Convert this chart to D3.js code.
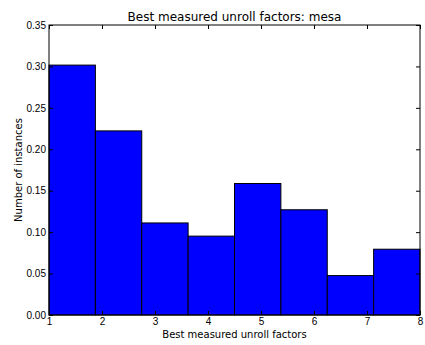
<!DOCTYPE html>
<html lang="en">
<head>
<meta charset="utf-8" />
<title>Best measured unroll factors: mesa</title>
<style>
html, body {
	margin: 0;
	padding: 0;
	background: #fff;
}
svg {
	display: block;
	font-family: "DejaVu Sans", sans-serif;
}
</style>
</head>
<body>
<svg width="425" height="345"></svg>

<script src="https://cdn.jsdelivr.net/npm/d3@7/dist/d3.min.js"></script>
<script>
// bin edges (unroll factor 1..8 split into 8 bins) and normed heights
var binEdges = [1, 1.875, 2.75, 3.625, 4.5, 5.375, 6.25, 7.125, 8];
var binValues = [0.3016, 0.2222, 0.1111, 0.0952, 0.1587, 0.1270, 0.0476, 0.0794];
var xTicks = [1, 2, 3, 4, 5, 6, 7, 8];
var yTicks = [0, 0.05, 0.10, 0.15, 0.20, 0.25, 0.30, 0.35];

var svg = d3.select('svg');
var plotL = 49, plotR = 420, plotT = 25, plotB = 315;

var x = d3.scaleLinear().domain([1, 8]).range([plotL, plotR]);
var y = d3.scaleLinear().domain([0, 0.35]).range([plotB, plotT]);

var bins = binValues.map(function(v, i) {
	return { x0: binEdges[i], x1: binEdges[i + 1], v: v };
});

// bars
svg.append('g').selectAll('rect')
	.data(bins)
	.enter()
	.append('rect')
	.attr('x', function(d) { return x(d.x0); })
	.attr('width', function(d) { return x(d.x1) - x(d.x0); })
	.attr('y', function(d) { return y(d.v); })
	.attr('height', function(d) { return y(0) - y(d.v); })
	.attr('fill', '#0000ff')
	.attr('stroke', '#000')
	.attr('stroke-width', 1);

// axes, ticks pointing inward like old matplotlib
function styleAxis(g) {
	g.select('.domain').remove();
	g.selectAll('.tick line').attr('stroke', '#000');
	g.selectAll('text').attr('fill', '#000').style('font-size', '10px');
}

svg.append('g')
	.attr('transform', 'translate(0,' + plotB + ')')
	.call(d3.axisBottom(x).tickValues(xTicks).tickFormat(d3.format('d')).tickSizeInner(-4).tickSizeOuter(0).tickPadding(3))
	.call(styleAxis);

svg.append('g')
	.attr('transform', 'translate(0,' + plotT + ')')
	.call(d3.axisTop(x).tickValues(xTicks).tickFormat('').tickSizeInner(-4).tickSizeOuter(0))
	.call(styleAxis);

svg.append('g')
	.attr('transform', 'translate(' + plotL + ',0)')
	.call(d3.axisLeft(y).tickValues(yTicks).tickFormat(d3.format('.2f')).tickSizeInner(-4).tickSizeOuter(0).tickPadding(3))
	.call(styleAxis);

svg.append('g')
	.attr('transform', 'translate(' + plotR + ',0)')
	.call(d3.axisRight(y).tickValues(yTicks).tickFormat('').tickSizeInner(-4).tickSizeOuter(0))
	.call(styleAxis);

// frame
svg.append('rect')
	.attr('x', plotL).attr('y', plotT)
	.attr('width', plotR - plotL).attr('height', plotB - plotT)
	.attr('fill', 'none')
	.attr('stroke', '#000')
	.attr('stroke-width', 1);

// title and labels
svg.append('text')
	.attr('x', (plotL + plotR) / 2).attr('y', 21)
	.attr('text-anchor', 'middle')
	.style('font-size', '12px')
	.text('Best measured unroll factors: mesa');

svg.append('text')
	.attr('x', (plotL + plotR) / 2).attr('y', 338)
	.attr('text-anchor', 'middle')
	.style('font-size', '10px')
	.text('Best measured unroll factors');

svg.append('text')
	.attr('transform', 'translate(22,' + ((plotT + plotB) / 2) + ') rotate(-90)')
	.attr('text-anchor', 'middle')
	.style('font-size', '10px')
	.text('Number of instances');
</script>
</body>
</html>
